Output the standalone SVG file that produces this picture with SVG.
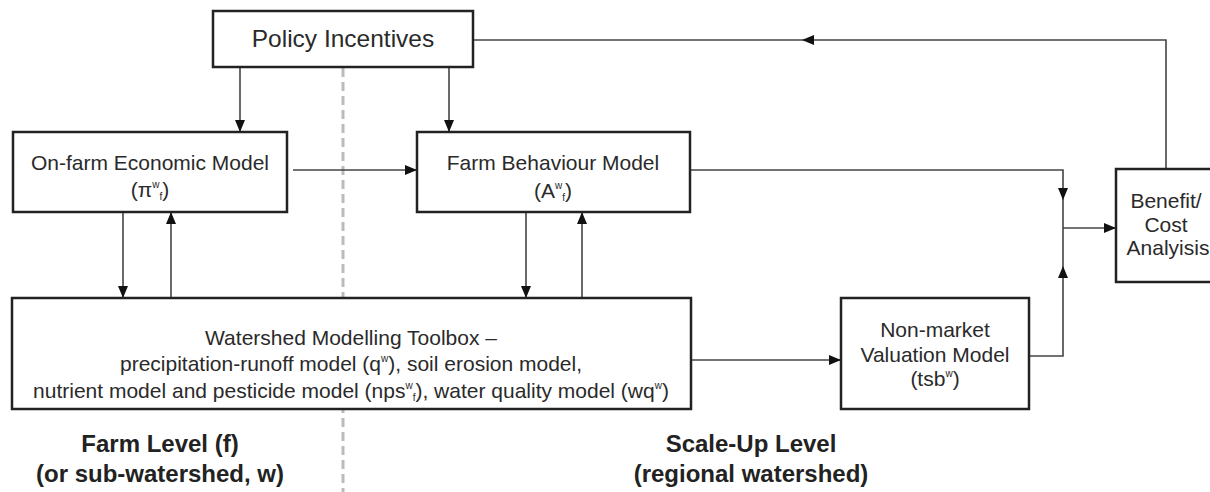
<svg xmlns="http://www.w3.org/2000/svg" width="1210" height="492" viewBox="0 0 1210 492">
<style>
.box{fill:#fff;stroke:#222;stroke-width:2.5}
.t{font-family:"Liberation Sans",Arial,sans-serif;font-size:21px;fill:#2a2a2a;text-anchor:middle}
.s{font-size:10px}
.lbl{font-family:"Liberation Sans",Arial,sans-serif;font-size:24px;font-weight:bold;fill:#222;text-anchor:middle}
.c{fill:none;stroke:#444;stroke-width:1.6}
.dash{stroke:#bbb;stroke-width:3;stroke-dasharray:9 5;fill:none}
</style>
<defs>
<marker id="ah" viewBox="0 0 12 10" refX="12" refY="5" markerWidth="12" markerHeight="10" markerUnits="userSpaceOnUse" orient="auto">
<path d="M0,0 L12,5 L0,10 z" fill="#111"/>
</marker>
</defs>
<rect width="1210" height="492" fill="#fff"/>
<line class="dash" x1="343" y1="68" x2="343" y2="492"/>
<g id="connectors">
<path class="c" d="M240,67 V132" marker-end="url(#ah)"/>
<path class="c" d="M449,67 V132" marker-end="url(#ah)"/>
<path class="c" d="M293,170 H417" marker-end="url(#ah)"/>
<path class="c" d="M123,212 V298" marker-end="url(#ah)"/>
<path class="c" d="M171,298 V212" marker-end="url(#ah)"/>
<path class="c" d="M526,212 V298" marker-end="url(#ah)"/>
<path class="c" d="M582,298 V212" marker-end="url(#ah)"/>
<path class="c" d="M691,360 H841" marker-end="url(#ah)"/>
<path class="c" d="M690,170 H1063 V200" marker-end="url(#ah)"/>
<path class="c" d="M1029,356 H1063 V266" marker-end="url(#ah)"/>
<path class="c" d="M1063,200 V266"/>
<path class="c" d="M1063,228 H1116" marker-end="url(#ah)"/>
<path class="c" d="M1166,169 V40 H802" marker-end="url(#ah)"/>
<path class="c" d="M802,40 H473"/>
</g>
<g id="policy">
<rect class="box" x="213" y="11" width="260" height="56"/>
<text class="t" x="343" y="47" style="font-size:24.5px">Policy Incentives</text>
</g>
<g id="onfarm">
<rect class="box" x="13" y="132" width="274" height="80"/>
<text class="t" x="150" y="170">On-farm Economic Model</text>
<text class="t" x="150" y="197">(π<tspan class="s" dy="-9">w</tspan><tspan class="s" dy="12">f</tspan><tspan dy="-3">)</tspan></text>
</g>
<g id="behaviour">
<rect class="box" x="417" y="132" width="273" height="80"/>
<text class="t" x="553" y="170">Farm Behaviour Model</text>
<text class="t" x="553" y="198">(A<tspan class="s" dy="-9">w</tspan><tspan class="s" dy="12">f</tspan><tspan dy="-3">)</tspan></text>
</g>
<g id="watershed">
<rect class="box" x="12" y="298" width="679" height="111"/>
<text class="t" x="351" y="345">Watershed Modelling Toolbox –</text>
<text class="t" x="351" y="371">precipitation-runoff model (q<tspan class="s" dy="-9">w</tspan><tspan dy="9">), soil erosion model,</tspan></text>
<text class="t" x="351" y="398">nutrient model and pesticide model (nps<tspan class="s" dy="-9">w</tspan><tspan class="s" dy="12">f</tspan><tspan dy="-3">), water quality model (wq</tspan><tspan class="s" dy="-9">w</tspan><tspan dy="9">)</tspan></text>
</g>
<g id="nonmarket">
<rect class="box" x="841" y="298" width="188" height="111"/>
<text class="t" x="935" y="337">Non-market</text>
<text class="t" x="935" y="362">Valuation Model</text>
<text class="t" x="935" y="386">(tsb<tspan class="s" dy="-9">w</tspan><tspan dy="9">)</tspan></text>
</g>
<g id="benefit">
<rect class="box" x="1116" y="169" width="110" height="113"/>
<text class="t" x="1166" y="208">Benefit/</text>
<text class="t" x="1166" y="232">Cost</text>
<text class="t" x="1168" y="255">Analyisis</text>
</g>
<g id="labels">
<text class="lbl" x="160" y="452">Farm Level (f)</text>
<text class="lbl" x="160" y="482">(or sub-watershed, w)</text>
<text class="lbl" x="751" y="452">Scale-Up Level</text>
<text class="lbl" x="751" y="482">(regional watershed)</text>
</g>
</svg>
